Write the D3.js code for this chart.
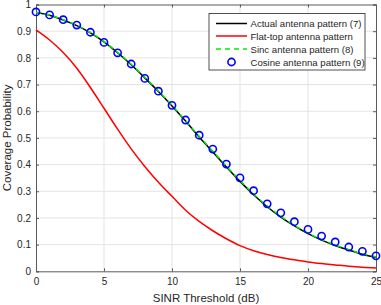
<!DOCTYPE html>
<html>
<head>
<meta charset="utf-8">
<script src="https://cdn.jsdelivr.net/npm/d3@7"></script>
<style>
  body { margin: 0; background: #fff; }
  text { font-family: "Liberation Sans", Arial, sans-serif; }
</style>
</head>
<body>
<script>
// SINR threshold in dB
var sinr = d3.range(0, 26);

// coverage probability for each antenna model
var actual = [0.970, 0.960, 0.942, 0.921, 0.894, 0.860, 0.819, 0.774, 0.725, 0.674,
              0.620, 0.563, 0.503, 0.447, 0.391, 0.337, 0.287, 0.242, 0.203, 0.170,
              0.141, 0.117, 0.097, 0.080, 0.064, 0.052];
var flatTop = [0.905, 0.867, 0.820, 0.761, 0.689, 0.611, 0.533, 0.459, 0.393, 0.334,
               0.281, 0.229, 0.187, 0.152, 0.122, 0.096, 0.077, 0.063, 0.052, 0.043,
               0.035, 0.029, 0.024, 0.019, 0.015, 0.012];
var sinc = [0.971, 0.960, 0.943, 0.922, 0.895, 0.861, 0.821, 0.776, 0.727, 0.676,
            0.622, 0.565, 0.506, 0.450, 0.394, 0.340, 0.290, 0.245, 0.206, 0.172,
            0.143, 0.119, 0.099, 0.081, 0.066, 0.054];
var cosine = [0.972, 0.961, 0.943, 0.923, 0.896, 0.858, 0.819, 0.777, 0.723, 0.675,
              0.622, 0.567, 0.510, 0.458, 0.402, 0.350, 0.302, 0.253, 0.219, 0.186,
              0.157, 0.132, 0.110, 0.091, 0.075, 0.058];

var xTicks = [0, 5, 10, 15, 20, 25];
var yTicks = [0, 0.1, 0.2, 0.3, 0.4, 0.5, 0.6, 0.7, 0.8, 0.9, 1];

var legendNames = ["Actual antenna pattern (7)", "Flat-top antenna pattern",
                   "Sinc antenna pattern (8)", "Cosine antenna pattern (9)"];

var w = 381, h = 305;
var mLeft = 36, mRight = 376, mTop = 4.5, mBottom = 271.3;

var svg = d3.select("body").append("svg")
    .attr("width", w)
    .attr("height", h);

var x = d3.scaleLinear().domain([0, 25]).range([mLeft, mRight]);
var y = d3.scaleLinear().domain([0, 1]).range([mBottom, mTop]);

// grid
svg.append("g").selectAll("line").data(xTicks.slice(1, -1)).enter().append("line")
    .attr("x1", d => x(d)).attr("x2", d => x(d))
    .attr("y1", mTop).attr("y2", mBottom)
    .attr("stroke", "#e3e3e3").attr("stroke-width", 1);
svg.append("g").selectAll("line").data(yTicks.slice(1, -1)).enter().append("line")
    .attr("x1", mLeft).attr("x2", mRight)
    .attr("y1", d => y(d)).attr("y2", d => y(d))
    .attr("stroke", "#e3e3e3").attr("stroke-width", 1);

// axes, ticks pointing inward like matlab
var xAxis = svg.append("g").attr("transform", "translate(0," + mBottom + ")")
    .call(d3.axisBottom(x).tickValues(xTicks).tickSize(-3).tickPadding(7).tickFormat(d3.format("d")));
var xTop = svg.append("g").attr("transform", "translate(0," + mTop + ")")
    .call(d3.axisTop(x).tickValues(xTicks).tickSize(-3).tickFormat(""));
var yAxis = svg.append("g").attr("transform", "translate(" + mLeft + ",0)")
    .call(d3.axisLeft(y).tickValues(yTicks).tickSize(-3).tickPadding(5).tickFormat(d => d === 0 || d === 1 ? d : d3.format(".1f")(d)));
var yRight = svg.append("g").attr("transform", "translate(" + mRight + ",0)")
    .call(d3.axisRight(y).tickValues(yTicks).tickSize(-3).tickFormat(""));

[xAxis, xTop, yAxis, yRight].forEach(function(g) {
    g.select(".domain").attr("stroke", "#5a5a5a").attr("stroke-width", 1);
    g.selectAll(".tick line").attr("stroke", "#5a5a5a");
    g.selectAll("text").attr("fill", "#262626").style("font-size", "10px");
});

// curves
var line = d3.line().x((d, i) => x(sinr[i])).y(d => y(d)).curve(d3.curveMonotoneX);

svg.append("path").datum(flatTop).attr("d", line)
    .attr("fill", "none").attr("stroke", "#ff0000").attr("stroke-width", 1.5);
svg.append("path").datum(actual).attr("d", line)
    .attr("fill", "none").attr("stroke", "#000000").attr("stroke-width", 1.5);
svg.append("path").datum(sinc).attr("d", line)
    .attr("fill", "none").attr("stroke", "#00ee00").attr("stroke-width", 1.5)
    .attr("stroke-dasharray", "5,4");

svg.append("g").selectAll("circle").data(cosine).enter().append("circle")
    .attr("cx", (d, i) => x(sinr[i]))
    .attr("cy", d => y(d))
    .attr("r", 3.6)
    .attr("fill", "none").attr("stroke", "#0000ff").attr("stroke-width", 1.6);

// legend
var lg = svg.append("g");
lg.append("rect")
    .attr("x", 209).attr("y", 13.5).attr("width", 156).attr("height", 56.5)
    .attr("fill", "#fff").attr("stroke", "#262626").attr("stroke-width", 0.8);
var rowY = [23.5, 36, 49, 62];
var styles = [
    {c: "#000000", dash: null},
    {c: "#ff0000", dash: null},
    {c: "#00ee00", dash: "5,4"}
];
styles.forEach(function(s, i) {
    lg.append("line").attr("x1", 216).attr("x2", 247)
        .attr("y1", rowY[i]).attr("y2", rowY[i])
        .attr("stroke", s.c).attr("stroke-width", 1.5)
        .attr("stroke-dasharray", s.dash);
});
lg.append("circle").attr("cx", 231.5).attr("cy", rowY[3]).attr("r", 3.6)
    .attr("fill", "none").attr("stroke", "#0000ff").attr("stroke-width", 1.6);
lg.selectAll("text.lab").data(legendNames).enter().append("text")
    .attr("class", "lab")
    .attr("x", 250.5).attr("y", (d, i) => rowY[i] + 3.5)
    .attr("fill", "#262626").style("font-size", "9.6px")
    .text(d => d);

// axis titles
svg.append("text").attr("x", (mLeft + mRight) / 2).attr("y", 302)
    .attr("text-anchor", "middle").attr("fill", "#262626").style("font-size", "11.5px")
    .text("SINR Threshold (dB)");
svg.append("text").attr("transform", "translate(11," + (mTop + mBottom) / 2 + ") rotate(-90)")
    .attr("text-anchor", "middle").attr("fill", "#262626").style("font-size", "11.5px")
    .text("Coverage Probability");
</script>
</body>
</html>
